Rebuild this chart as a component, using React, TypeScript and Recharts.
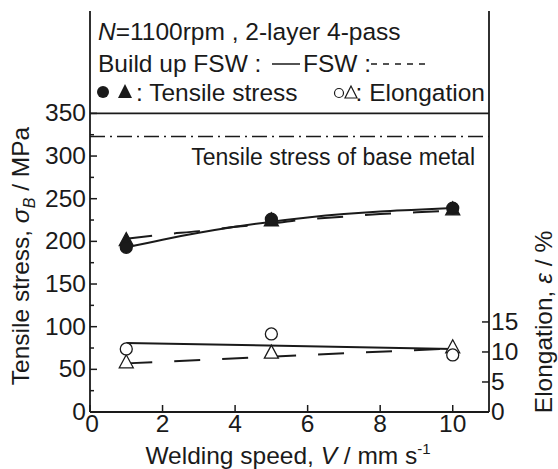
import { ComposedChart, Line, XAxis, YAxis, ReferenceLine, Customized } from 'recharts';

// measured points
const speeds = [1, 5, 10];
const buildUpStress = [193, 226, 239];
const fswStress = [201, 224, 237];
const buildUpElong = [10.5, 13.0, 9.5];
const fswElong = [8.2, 9.8, 10.7];

// fitted curves
const fitSpeeds = [1, 2, 3, 4, 5, 6, 7, 8, 9, 10];
const buildUpStressFit = [193, 202, 210, 217, 223, 228, 232, 235, 237, 239];
const fswStressFit = [203, 208, 212, 217, 221, 226, 229, 232, 234, 236];
const elongFitSpeeds = [1, 10];
const buildUpElongFit = [11.5, 10.5];
const fswElongFit = [8.1, 10.6];

const baseMetalStress = 323;
const legendTopStress = 350;

const speedTicks = [0, 2, 4, 6, 8, 10];
const stressTicks = [0, 25, 50, 75, 100, 125, 150, 175, 200, 225, 250, 275, 300, 325, 350];
const elongTicks = [0, 5, 10, 15];

const points = speeds.map((v, i) => ({
  v,
  bu: buildUpStress[i],
  fsw: fswStress[i],
  bue: buildUpElong[i],
  fswe: fswElong[i],
}));
const stressFit = fitSpeeds.map((v, i) => ({ v, bu: buildUpStressFit[i], fsw: fswStressFit[i] }));
const elongFit = elongFitSpeeds.map((v, i) => ({ v, bu: buildUpElongFit[i], fsw: fswElongFit[i] }));

const INK = '#1a1a1a';
const FONT = '"Liberation Sans", Arial, sans-serif';
const FS = 24.5;

const dotCircle = (filled: boolean) => (p: any) => (
  <circle key={p.index} cx={p.cx} cy={p.cy} r={6} fill={filled ? INK : '#fff'} stroke={INK} strokeWidth={1.3} />
);
const dotTriangle = (filled: boolean) => (p: any) => (
  <polygon
    key={p.index}
    points={`${p.cx},${p.cy - 8} ${p.cx - 7},${p.cy + 5} ${p.cx + 7},${p.cy + 5}`}
    fill={filled ? INK : '#fff'}
    stroke={INK}
    strokeWidth={1.3}
  />
);

const XTick = (p: any) => (
  <g>
    <line x1={p.x} x2={p.x} y1={p.y} y2={p.y - 7} stroke={INK} strokeWidth={1.5} />
    <text x={p.x + (p.payload.value === 0 ? 2 : 0)} y={p.y + 20} textAnchor="middle" fontSize={FS} fill={INK}>
      {p.payload.value}
    </text>
  </g>
);

const LeftTick = (p: any) => {
  const major = p.payload.value % 50 === 0;
  return (
    <g>
      <line x1={p.x} x2={p.x + (major ? 7 : 4)} y1={p.y} y2={p.y} stroke={INK} strokeWidth={1.5} />
      {major && (
        <text x={p.x - 4} y={p.y + 8} textAnchor="end" fontSize={FS} fill={INK}>
          {p.payload.value}
        </text>
      )}
    </g>
  );
};

const RightTick = (p: any) => (
  <g>
    <line x1={p.x} x2={p.x - 7} y1={p.y} y2={p.y} stroke={INK} strokeWidth={1.5} />
    <text x={p.x + 2} y={p.y + 8} textAnchor="start" fontSize={FS} fill={INK}>
      {p.payload.value}
    </text>
  </g>
);

function Annotations() {
  return (
    <g fontFamily={FONT} fill={INK} fontSize={FS}>
      <text x={98} y={40}>
        <tspan fontStyle="italic">N</tspan>=1100rpm , 2-layer 4-pass
      </text>
      <text x={98} y={72}>Build up FSW :</text>
      <line x1={272} x2={300} y1={64} y2={64} stroke={INK} strokeWidth={1.5} />
      <text x={303} y={72}>FSW :</text>
      <line x1={371} x2={428} y1={64} y2={64} stroke={INK} strokeWidth={1.5} strokeDasharray="6 6" />
      <circle cx={103} cy={92} r={6} fill={INK} />
      <polygon points="125,84 118,98 132,98" fill={INK} />
      <text x={136} y={101}>: Tensile stress</text>
      <circle cx={339} cy={93} r={4.5} fill="#fff" stroke={INK} strokeWidth={1.2} />
      <polygon points="351,86 345,98 357,98" fill="#fff" stroke={INK} strokeWidth={1.2} />
      <text x={485} y={101} textAnchor="end">: Elongation</text>
      <text x={475} y={165} fontSize={23} textAnchor="end">Tensile stress of base metal</text>
      <text x={288} y={464} textAnchor="middle">
        Welding speed, <tspan fontStyle="italic">V</tspan>{'  '}/ mm s
        <tspan fontSize={15} dy={-10}>-1</tspan>
      </text>
      <text transform="translate(29,256) rotate(-90)" textAnchor="middle">
        Tensile stress, <tspan fontStyle="italic">σ</tspan>
        <tspan fontStyle="italic" fontSize={16} dy={6}>B</tspan>
        <tspan dy={-6}>{'  '}/ MPa</tspan>
      </text>
      <text transform="translate(552,322) rotate(-90)" textAnchor="middle">
        Elongation, <tspan fontStyle="italic">ε</tspan>{'  '}/ %
      </text>
    </g>
  );
}

export default function App() {
  return (
    <div style={{ position: 'absolute', left: 0, top: 0, width: 558, height: 469, background: '#fff', fontFamily: FONT }}>
      <ComposedChart width={558} height={469} margin={{ top: 11, right: 0, bottom: 0, left: 0 }}>
        <XAxis
          dataKey="v"
          type="number"
          domain={[0, 11]}
          ticks={speedTicks}
          interval={0}
          height={57}
          tickSize={0}
          tickMargin={0}
          tickLine={false}
          tick={<XTick />}
          axisLine={{ stroke: INK, strokeWidth: 1.8 }}
        />
        <XAxis xAxisId="top" orientation="top" type="number" domain={[0, 11]} height={0} tick={false} tickLine={false} axisLine={{ stroke: INK, strokeWidth: 1.8 }} />
        <YAxis
          yAxisId="l"
          type="number"
          domain={[0, 470]}
          ticks={stressTicks}
          interval={0}
          width={90}
          tickSize={0}
          tickMargin={0}
          tickLine={false}
          tick={<LeftTick />}
          axisLine={{ stroke: INK, strokeWidth: 1.8 }}
        />
        <YAxis
          yAxisId="r"
          orientation="right"
          type="number"
          domain={[0, 66.8]}
          ticks={elongTicks}
          interval={0}
          width={69}
          tickSize={0}
          tickMargin={0}
          tickLine={false}
          tick={<RightTick />}
          axisLine={{ stroke: INK, strokeWidth: 1.8 }}
        />
        <ReferenceLine yAxisId="l" y={legendTopStress} stroke={INK} strokeWidth={1.6} />
        <ReferenceLine yAxisId="l" y={baseMetalStress} stroke={INK} strokeWidth={1.5} strokeDasharray="15 5 2 5" />

        <Line yAxisId="l" data={stressFit} dataKey="bu" type="monotone" stroke={INK} strokeWidth={2} dot={false} isAnimationActive={false} />
        <Line yAxisId="l" data={stressFit} dataKey="fsw" type="monotone" stroke={INK} strokeWidth={2} strokeDasharray="26 22" dot={false} isAnimationActive={false} />
        <Line yAxisId="r" data={elongFit} dataKey="bu" type="linear" stroke={INK} strokeWidth={2} dot={false} isAnimationActive={false} />
        <Line yAxisId="r" data={elongFit} dataKey="fsw" type="linear" stroke={INK} strokeWidth={2} strokeDasharray="26 22" dot={false} isAnimationActive={false} />

        <Line yAxisId="l" data={points} dataKey="fsw" stroke="none" dot={dotTriangle(true)} activeDot={false} isAnimationActive={false} />
        <Line yAxisId="l" data={points} dataKey="bu" stroke="none" dot={dotCircle(true)} activeDot={false} isAnimationActive={false} />
        <Line yAxisId="r" data={points} dataKey="fswe" stroke="none" dot={dotTriangle(false)} activeDot={false} isAnimationActive={false} />
        <Line yAxisId="r" data={points} dataKey="bue" stroke="none" dot={dotCircle(false)} activeDot={false} isAnimationActive={false} />

        <Customized component={Annotations} />
      </ComposedChart>
    </div>
  );
}
